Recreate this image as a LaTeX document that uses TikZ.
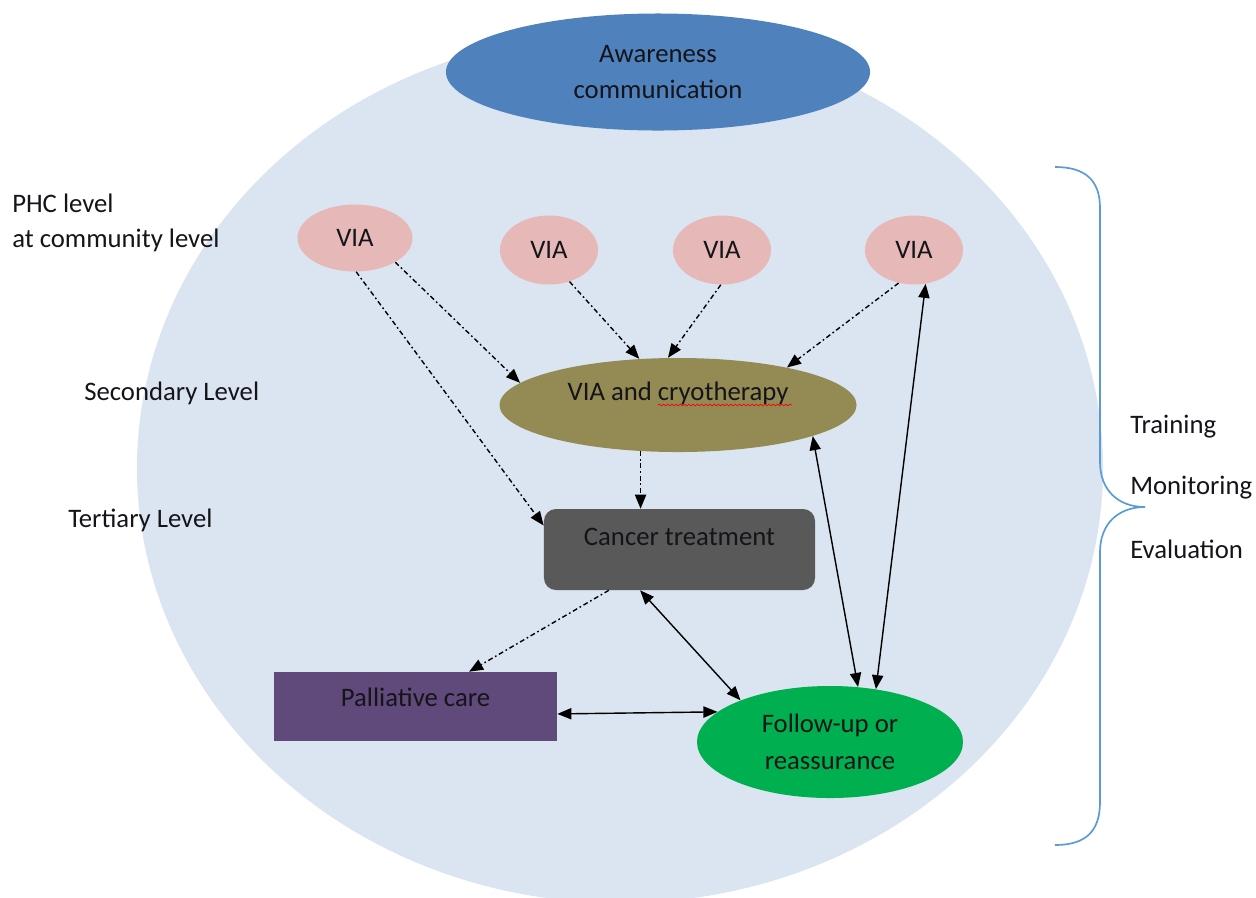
\documentclass[tikz,border=0pt]{standalone}
\usepackage{fontspec}
\setmainfont{Carlito}
\usepackage{tikz}
\usetikzlibrary{shapes.geometric,arrows.meta,decorations.pathmorphing}
\definecolor{bgblue}{RGB}{219,229,241}
\definecolor{awareblue}{RGB}{79,129,189}
\definecolor{viapink}{RGB}{230,185,184}
\definecolor{cryoolive}{RGB}{148,138,84}
\definecolor{cancergray}{RGB}{89,89,89}
\definecolor{palliviolet}{RGB}{96,74,123}
\definecolor{followgreen}{RGB}{0,176,80}
\definecolor{braceblue}{RGB}{91,155,213}
\definecolor{inkblack}{RGB}{20,20,25}
\tikzset{
  blob/.style={ellipse,draw=none,inner sep=0pt,align=center,text=inkblack},
  viablob/.style={blob,fill=viapink,minimum width=2.45cm,minimum height=1.725cm},
  shapebox/.style={rectangle,draw=none,inner sep=0pt},
  levellabel/.style={anchor=west,inner sep=0pt,text=inkblack},
  dasharrow/.style={line width=1pt,dash pattern=on 3.5pt off 2pt on 1.2pt off 2pt,-{Triangle[length=10pt,width=8pt]}},
  twowayarrow/.style={line width=1pt,{Triangle[length=10pt,width=8pt]}-{Triangle[length=10pt,width=8pt]}}
}
\begin{document}
\begin{tikzpicture}[x=0.025cm,y=-0.025cm,font=\fontsize{19}{26}\selectfont]
  \useasboundingbox (0,0) rectangle (1256,897);
  \fill[bgblue] (620,468) ellipse (483 and 435);
  \node[blob,fill=awareblue,minimum width=10.6cm,minimum height=2.925cm] (aware) at (658,72) {Awareness\\communication};
  % screening at PHC level
  \node[viablob,minimum width=2.875cm,minimum height=1.675cm] (via1) at (355,238) {VIA};
  \node[viablob] (via2) at (549,250) {VIA};
  \node[viablob] (via3) at (722,250) {VIA};
  \node[viablob] (via4) at (914,250) {VIA};
  \node[blob,fill=cryoolive,minimum width=8.925cm,minimum height=2.35cm] (cryo) at (678,405) {};
  \node[text=inkblack] (cryotext) at ([yshift=0.3cm]cryo.center) {VIA and cryotherapy};
  \draw[red,line width=0.5pt,decorate,decoration={snake,amplitude=0.6pt,segment length=3pt}] (658,405) -- (792,405);
  \node[shapebox,fill=cancergray,rounded corners=0.3cm,minimum width=6.775cm,minimum height=2.025cm] (cancer) at (679.5,549.5) {};
  \node[text=inkblack] (cancertext) at ([yshift=0.31cm]cancer.center) {Cancer treatment};
  \node[shapebox,fill=palliviolet,minimum width=7.075cm,minimum height=1.725cm] (pall) at (415.5,706.5) {};
  \node[text=inkblack] (palltext) at ([yshift=0.24cm]pall.center) {Palliative care};
  \node[blob,fill=followgreen,minimum width=6.65cm,minimum height=2.8cm] (fu) at (830,742) {Follow-up or\\reassurance};
  % levels
  \node[levellabel] (phc) at (12,203) {PHC level};
  \node[levellabel] (comm) at (12,240) {at community level};
  \node[levellabel] (second) at (84,393) {Secondary Level};
  \node[levellabel] (third) at (68,520) {Tertiary Level};
  % brace
  \coordinate (btop) at (1055,167);
  \coordinate (btip) at (1145,507);
  \coordinate (bbot) at (1055,845);
  \draw[braceblue,line width=1.2pt] (btop) .. controls (1085,167) and (1100,180) .. (1100,208) -- (1100,462) .. controls (1100,490) and (1118,507) .. (btip) .. controls (1118,507) and (1100,524) .. (1100,552) -- (1100,802) .. controls (1100,832) and (1085,845) .. (bbot);
  \node[levellabel] (train) at (1130,427) {Training};
  \node[levellabel] (monitor) at (1130,488) {Monitoring};
  \node[levellabel] (eval) at (1130,549) {Evaluation};
  % referrals
  \draw[dasharrow] (via1.-31) -- (cryo.172);
  \draw[dasharrow] (via1.-88) -- (cancer.170);
  \draw[dasharrow] (via2.-57) -- (cryo.130);
  \draw[dasharrow] (via3.-92) -- (cryo.102);
  \draw[dasharrow] (via4.-115) -- (cryo.19);
  \draw[dasharrow] (cryo.-129) -- (cryo.-129 |- cancer.north);
  \draw[dasharrow] (cancer.-150) -- (pall.33);
  \draw[twowayarrow] (cancer.-134) -- (fu.155);
  \draw[twowayarrow] (pall.-3) -- (fu.165);
  \draw[twowayarrow] (cryo.-13) -- (fu.63);
  \draw[twowayarrow] (via4.-71) -- (fu.49);
\end{tikzpicture}
\end{document}
